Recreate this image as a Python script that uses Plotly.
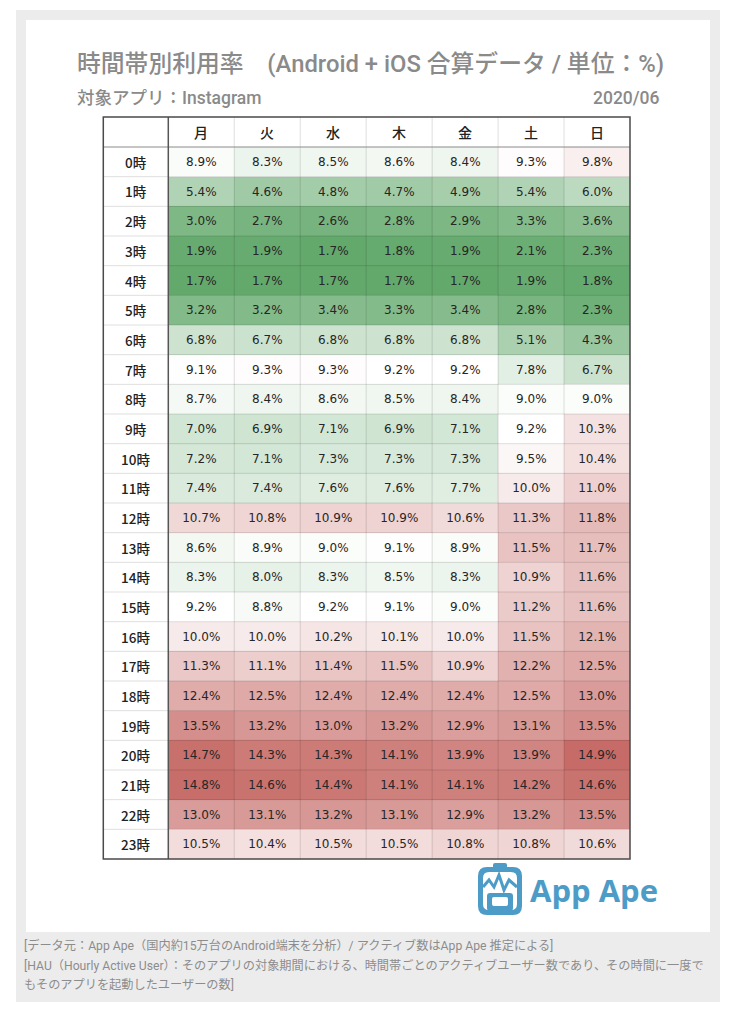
import plotly.graph_objects as go

days = ["月", "火", "水", "木", "金", "土", "日"]
hours = [f"{h}時" for h in range(24)]

mon = [8.9, 5.4, 3.0, 1.9, 1.7, 3.2, 6.8, 9.1, 8.7, 7.0, 7.2, 7.4, 10.7, 8.6, 8.3, 9.2, 10.0, 11.3, 12.4, 13.5, 14.7, 14.8, 13.0, 10.5]
tue = [8.3, 4.6, 2.7, 1.9, 1.7, 3.2, 6.7, 9.3, 8.4, 6.9, 7.1, 7.4, 10.8, 8.9, 8.0, 8.8, 10.0, 11.1, 12.5, 13.2, 14.3, 14.6, 13.1, 10.4]
wed = [8.5, 4.8, 2.6, 1.7, 1.7, 3.4, 6.8, 9.3, 8.6, 7.1, 7.3, 7.6, 10.9, 9.0, 8.3, 9.2, 10.2, 11.4, 12.4, 13.0, 14.3, 14.4, 13.2, 10.5]
thu = [8.6, 4.7, 2.8, 1.8, 1.7, 3.3, 6.8, 9.2, 8.5, 6.9, 7.3, 7.6, 10.9, 9.1, 8.5, 9.1, 10.1, 11.5, 12.4, 13.2, 14.1, 14.1, 13.1, 10.5]
fri = [8.4, 4.9, 2.9, 1.9, 1.7, 3.4, 6.8, 9.2, 8.4, 7.1, 7.3, 7.7, 10.6, 8.9, 8.3, 9.0, 10.0, 10.9, 12.4, 12.9, 13.9, 14.1, 12.9, 10.8]
sat = [9.3, 5.4, 3.3, 2.1, 1.9, 2.8, 5.1, 7.8, 9.0, 9.2, 9.5, 10.0, 11.3, 11.5, 10.9, 11.2, 11.5, 12.2, 12.5, 13.1, 13.9, 14.2, 13.2, 10.8]
sun = [9.8, 6.0, 3.6, 2.3, 1.8, 2.3, 4.3, 6.7, 9.0, 10.3, 10.4, 11.0, 11.8, 11.7, 11.6, 11.6, 12.1, 12.5, 13.0, 13.5, 14.9, 14.6, 13.5, 10.6]

columns = [mon, tue, wed, thu, fri, sat, sun]
z = [[col[i] for col in columns] for i in range(len(hours))]

title_text = "時間帯別利用率　(Android + iOS 合算データ / 単位：%)"
subtitle_text = "対象アプリ：Instagram"
date_text = "2020/06"
footer_lines = [
    "[データ元：App Ape（国内約15万台のAndroid端末を分析）/ アクティブ数はApp Ape 推定による]",
    "[HAU（Hourly Active User）：そのアプリの対象期間における、時間帯ごとのアクティブユーザー数であり、その時間に一度で",
    "もそのアプリを起動したユーザーの数]",
]

W, H = 734, 1016


def px(x):
    return x / W


def py(y):
    return 1 - y / H


def rounded_rect(x0, y0, x1, y1, r):
    pts = [
        f"M {px(x0 + r)},{py(y0)}",
        f"L {px(x1 - r)},{py(y0)}",
        f"Q {px(x1)},{py(y0)} {px(x1)},{py(y0 + r)}",
        f"L {px(x1)},{py(y1 - r)}",
        f"Q {px(x1)},{py(y1)} {px(x1 - r)},{py(y1)}",
        f"L {px(x0 + r)},{py(y1)}",
        f"Q {px(x0)},{py(y1)} {px(x0)},{py(y1 - r)}",
        f"L {px(x0)},{py(y0 + r)}",
        f"Q {px(x0)},{py(y0)} {px(x0 + r)},{py(y0)} Z",
    ]
    return " ".join(pts)


zmin, zmax, zmid = 1.7, 14.9, 9.2
mid = (zmid - zmin) / (zmax - zmin)

fig = go.Figure()
fig.add_trace(go.Heatmap(
    x=days, y=hours, z=z,
    zmin=zmin, zmax=zmax,
    colorscale=[[0, "#63a96c"], [mid, "#ffffff"], [1, "#c66b67"]],
    showscale=False,
    texttemplate="%{z:.1f}%",
    textfont=dict(family="DejaVu Sans", size=12, color="#262626"),
    hoverinfo="skip",
))

TL, TR = 103.3, 630
TT, HB, TB = 117, 147, 859
C1 = 168.3

fig.update_layout(
    width=W, height=H, autosize=False,
    margin=dict(l=0, r=0, t=0, b=0),
    paper_bgcolor="white", plot_bgcolor="white",
    xaxis=dict(domain=[px(C1), px(TR)], showticklabels=False, showgrid=False,
               zeroline=False, type="category", fixedrange=True),
    yaxis=dict(domain=[py(TB), py(HB)], showticklabels=False, showgrid=False,
               zeroline=False, type="category", autorange="reversed", fixedrange=True),
)

shapes = []
# page background panels
shapes.append(dict(type="rect", xref="paper", yref="paper", x0=px(16), x1=px(720),
                   y0=py(1002), y1=py(10), fillcolor="#ececec", line_width=0, layer="below"))
shapes.append(dict(type="rect", xref="paper", yref="paper", x0=px(26), x1=px(710),
                   y0=py(932), y1=py(20), fillcolor="#ffffff", line_width=0, layer="below"))

# cell grid lines
for i in range(len(days) - 1):
    shapes.append(dict(type="line", xref="x", yref="paper", x0=i + 0.5, x1=i + 0.5,
                       y0=py(TB), y1=py(TT), line=dict(color="rgba(0,0,0,0.13)", width=1)))
for i in range(len(hours) - 1):
    shapes.append(dict(type="line", xref="paper", yref="y", x0=px(TL), x1=px(TR),
                       y0=i + 0.5, y1=i + 0.5, line=dict(color="rgba(0,0,0,0.13)", width=1)))
# header bottom & first column separator
shapes.append(dict(type="line", xref="paper", yref="paper", x0=px(TL), x1=px(TR),
                   y0=py(HB), y1=py(HB), line=dict(color="#8a8a8a", width=1)))
shapes.append(dict(type="line", xref="paper", yref="paper", x0=px(C1), x1=px(C1),
                   y0=py(TT), y1=py(TB), line=dict(color="#555555", width=1.5)))
# outer border
shapes.append(dict(type="rect", xref="paper", yref="paper", x0=px(TL), x1=px(TR),
                   y0=py(TB), y1=py(TT), line=dict(color="#4a4a4a", width=1.5)))

# App Ape logo icon
blue = "#4d9cc8"
shapes.append(dict(type="path", xref="paper", yref="paper",
                   path=rounded_rect(478, 867, 522, 915, 9), fillcolor=blue, line_width=0))
shapes.append(dict(type="path", xref="paper", yref="paper",
                   path=rounded_rect(483, 872, 517, 910, 6), fillcolor="white", line_width=0))
# hair tuft
shapes.append(dict(type="path", xref="paper", yref="paper",
                   path=rounded_rect(493, 863, 507, 869, 2), fillcolor=blue, line_width=0))
zig = [(483, 887), (489, 880), (494, 887), (499, 875), (504, 890), (509, 880), (517, 887)]
path = "M " + " L ".join(f"{px(a)},{py(b)}" for a, b in zig)
shapes.append(dict(type="path", xref="paper", yref="paper", path=path,
                   line=dict(color=blue, width=3)))
shapes.append(dict(type="path", xref="paper", yref="paper",
                   path=rounded_rect(487, 893, 513, 911, 3), fillcolor=blue, line_width=0))
shapes.append(dict(type="path", xref="paper", yref="paper",
                   path=rounded_rect(492, 897, 508, 906, 2), fillcolor="white", line_width=0))

fig.update_layout(shapes=shapes)

ann = []
for d in days:
    ann.append(dict(x=d, xref="x", y=py((TT + HB) / 2), yref="paper", text=d,
                    showarrow=False, xanchor="center", yanchor="middle",
                    font=dict(family="Noto Sans CJK JP", size=14, color="#222222", weight=500)))
for h in hours:
    ann.append(dict(x=px((TL + C1) / 2), xref="paper", y=h, yref="y", text=h,
                    showarrow=False, xanchor="center", yanchor="middle",
                    font=dict(family="Noto Sans CJK JP", size=13.5, color="#222222", weight=500)))

tfont = "Roboto, 'Noto Sans CJK JP'"
ann.append(dict(x=px(75), y=py(64), xref="paper", yref="paper", text=title_text,
                showarrow=False, xanchor="left", yanchor="middle",
                font=dict(family=tfont, size=23.8, color="#8a8a8a", weight=500)))
ann.append(dict(x=px(75), y=py(98), xref="paper", yref="paper", text=subtitle_text,
                showarrow=False, xanchor="left", yanchor="middle",
                font=dict(family=tfont, size=17.5, color="#8a8a8a", weight=500)))
ann.append(dict(x=px(662), y=py(98), xref="paper", yref="paper", text=date_text,
                showarrow=False, xanchor="right", yanchor="middle",
                font=dict(family=tfont, size=17.5, color="#8a8a8a", weight=500)))
ann.append(dict(x=px(528), y=py(890), xref="paper", yref="paper", text="<b>App Ape</b>",
                showarrow=False, xanchor="left", yanchor="middle",
                font=dict(family="Open Sans", size=31, color=blue)))
for line, yy in zip(footer_lines, [945, 965, 984]):
    ann.append(dict(x=px(22), y=py(yy), xref="paper", yref="paper", text=line,
                    showarrow=False, xanchor="left", yanchor="middle",
                    font=dict(family=tfont, size=12.2, color="#8c8c8c")))

fig.update_layout(annotations=ann)
fig.write_html("out.html", config={"displayModeBar": False},
               post_script="document.body.style.margin='0px';")
